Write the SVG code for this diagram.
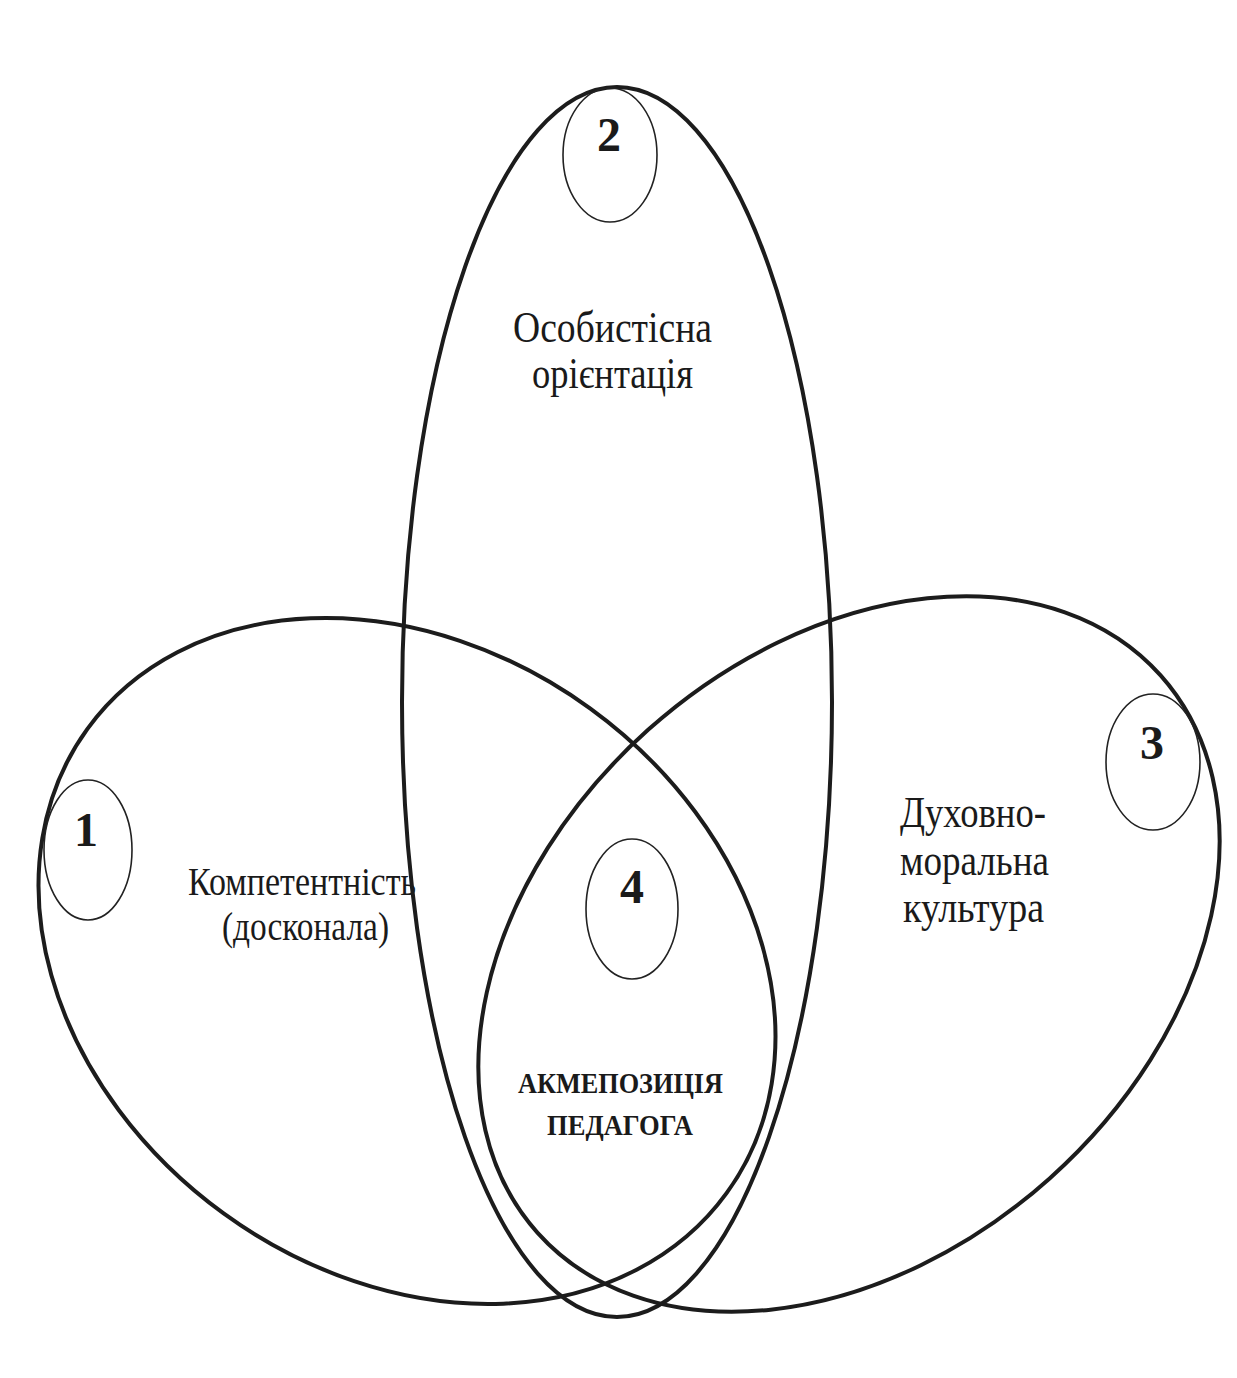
<svg xmlns="http://www.w3.org/2000/svg" width="1237" height="1378" viewBox="0 0 1237 1378">
<style>
.big{fill:none;stroke:#1c1c1c;stroke-width:4}
.small{fill:none;stroke:#222;stroke-width:1.6}
.lbl{font-family:"Liberation Serif","Times New Roman",serif;font-size:44px;fill:#1a1a1a}
.lbl2{font-family:"Liberation Serif","Times New Roman",serif;font-size:40px;fill:#1a1a1a}
.num{font-family:"Liberation Serif","Times New Roman",serif;font-size:48px;font-weight:bold;fill:#1a1a1a;text-anchor:middle}
.core{font-family:"Liberation Serif","Times New Roman",serif;font-size:30px;font-weight:bold;fill:#1a1a1a}
</style>
<rect width="1237" height="1378" fill="#ffffff"/>
<g id="ellipse-1">
<ellipse class="big" cx="407" cy="961" rx="395" ry="312" transform="rotate(36 407 961)"/>
<ellipse class="small" cx="88" cy="850" rx="44" ry="70"/>
<text class="num" x="86" y="846">1</text>
<text class="lbl2" x="188" y="895" textLength="228" lengthAdjust="spacingAndGlyphs">Компетентність</text>
<text class="lbl2" x="222" y="940" textLength="167" lengthAdjust="spacingAndGlyphs">(досконала)</text>
</g>
<g id="ellipse-2">
<ellipse class="big" cx="617" cy="702" rx="215" ry="615"/>
<ellipse class="small" cx="610" cy="155" rx="47" ry="67"/>
<text class="num" x="609" y="151">2</text>
<text class="lbl" x="513" y="342" textLength="199" lengthAdjust="spacingAndGlyphs">Особистісна</text>
<text class="lbl" x="532" y="388" textLength="161" lengthAdjust="spacingAndGlyphs">орієнтація</text>
</g>
<g id="ellipse-3">
<ellipse class="big" cx="849" cy="954" rx="418" ry="301" transform="rotate(-41.8 849 954)"/>
<ellipse class="small" cx="1153" cy="762" rx="47" ry="68"/>
<text class="num" x="1152" y="759">3</text>
<text class="lbl" x="900" y="827" textLength="146" lengthAdjust="spacingAndGlyphs">Духовно-</text>
<text class="lbl" x="900" y="875" textLength="149" lengthAdjust="spacingAndGlyphs">моральна</text>
<text class="lbl" x="903" y="922" textLength="141" lengthAdjust="spacingAndGlyphs">культура</text>
</g>
<g id="core-4">
<ellipse class="small" cx="632" cy="909" rx="46" ry="70"/>
<text class="num" x="632" y="903">4</text>
<text class="core" x="518" y="1093" textLength="205" lengthAdjust="spacingAndGlyphs">АКМЕПОЗИЦІЯ</text>
<text class="core" x="547" y="1135" textLength="146" lengthAdjust="spacingAndGlyphs">ПЕДАГОГА</text>
</g>
<g id="connectors"></g>
</svg>
